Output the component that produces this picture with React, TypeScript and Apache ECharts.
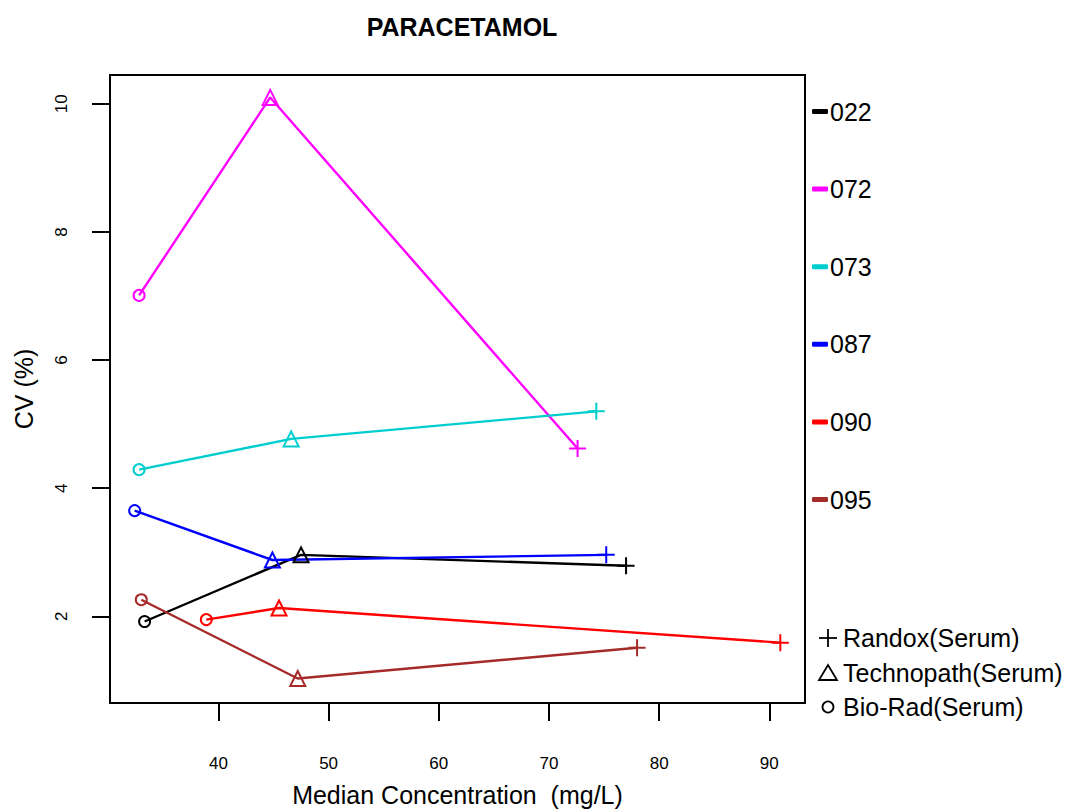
import React, { useEffect, useRef } from "react";
import * as echarts from "echarts";

const labs = ["022", "072", "073", "087", "090", "095"];
const labColors = ["#000000", "#FF00FF", "#00CDCD", "#0000FF", "#FF0000", "#A52A2A"];
const methods = ["Bio-Rad(Serum)", "Technopath(Serum)", "Randox(Serum)"];

// per lab: [Bio-Rad, Technopath, Randox]
const conc022 = [33.3, 47.5, 77.0];
const cv022 = [1.92, 2.96, 2.79];
const conc072 = [32.8, 44.7, 72.6];
const cv072 = [7.01, 10.1, 4.62];
const conc073 = [32.8, 46.6, 74.3];
const cv073 = [4.29, 4.77, 5.2];
const conc087 = [32.4, 44.9, 75.2];
const cv087 = [3.65, 2.88, 2.96];
const conc090 = [38.9, 45.5, 91.0];
const cv090 = [1.95, 2.13, 1.59];
const conc095 = [33.0, 47.2, 78.0];
const cv095 = [2.26, 1.03, 1.51];

const concs = [conc022, conc072, conc073, conc087, conc090, conc095];
const cvs = [cv022, cv072, cv073, cv087, cv090, cv095];

const xTicks = [40, 50, 60, 70, 80, 90];
const yTicks = [2, 4, 6, 8, 10];

const PLUS = "path://M0,10L20,10M10,0L10,20";
const methodSymbols = ["circle", "triangle", PLUS];
const methodSizes = [11, 15, 17];

const FONT = "Liberation Sans, Arial, sans-serif";

export default function App() {
  const ref = useRef<HTMLDivElement>(null);
  useEffect(() => {
    if (!ref.current) return;
    const chart = echarts.init(ref.current, null, { renderer: "svg" });
    const series = labs.map((lab, i) => ({
      name: lab,
      type: "line",
      data: concs[i].map((x, j) => ({
        value: [x, cvs[i][j]],
        symbol: methodSymbols[j],
        symbolSize: methodSizes[j],
      })),
      showAllSymbol: true,
      lineStyle: { color: labColors[i], width: 2.4 },
      itemStyle: { color: "none", borderColor: labColors[i], borderWidth: 2 },
      emphasis: { disabled: true },
    }));
    chart.setOption({
      animation: false,
      backgroundColor: "#ffffff",
      textStyle: { fontFamily: FONT },
      title: {
        text: "PARACETAMOL",
        left: 457,
        textAlign: "center",
        top: 9,
        textStyle: { fontSize: 25, fontWeight: "bold", color: "#000", fontFamily: FONT },
      },
      grid: {
        left: 110,
        right: 263,
        top: 75,
        bottom: 107,
        containLabel: false,
        outerBoundsMode: "none",
        show: true,
        borderColor: "#000",
        borderWidth: 2,
        backgroundColor: "transparent",
      },
      xAxis: {
        type: "value",
        min: 30.16,
        max: 93.24,
        name: "Median Concentration  (mg/L)",
        nameLocation: "middle",
        nameGap: 79,
        nameTextStyle: { fontSize: 25, color: "#000", fontFamily: FONT },
        axisLine: { show: false },
        splitLine: { show: false },
        axisTick: {
          show: true,
          length: 18,
          customValues: xTicks,
          lineStyle: { color: "#000", width: 2 },
        },
        axisLabel: {
          customValues: xTicks,
          margin: 52,
          fontSize: 17,
          color: "#000",
          fontFamily: FONT,
        },
      },
      yAxis: {
        type: "value",
        min: 0.648,
        max: 10.45,
        name: "CV (%)",
        nameLocation: "middle",
        nameGap: 74,
        nameRotate: 90,
        nameTextStyle: { fontSize: 25, color: "#000", fontFamily: FONT },
        axisLine: { show: false },
        splitLine: { show: false },
        axisTick: {
          show: true,
          length: 18,
          customValues: yTicks,
          lineStyle: { color: "#000", width: 2 },
        },
        axisLabel: {
          customValues: yTicks,
          rotate: 90,
          margin: 40,
          fontSize: 17,
          color: "#000",
          fontFamily: FONT,
        },
      },
      legend: {
        orient: "vertical",
        left: 812,
        top: 99,
        padding: 0,
        itemGap: 52.6,
        itemWidth: 16,
        itemHeight: 5,
        selectedMode: false,
        icon: "roundRect",
        textStyle: { fontSize: 25, lineHeight: 24, color: "#000", fontFamily: FONT, padding: [0, 0, 0, -3] },
        data: labs.map((l, i) => ({
          name: l,
          icon: "roundRect",
          itemStyle: { color: labColors[i], borderWidth: 0 },
        })),
      },
      graphic: [
        { type: "line", shape: { x1: 819, y1: 638, x2: 837, y2: 638 }, style: { stroke: "#000", lineWidth: 1.8 } },
        { type: "line", shape: { x1: 828, y1: 629, x2: 828, y2: 647 }, style: { stroke: "#000", lineWidth: 1.8 } },
        {
          type: "polygon",
          shape: { points: [[828, 665], [819, 680], [837, 680]] },
          style: { stroke: "#000", fill: "none", lineWidth: 1.8 },
        },
        { type: "circle", shape: { cx: 828, cy: 707, r: 5.5 }, style: { stroke: "#000", fill: "none", lineWidth: 1.8 } },
        {
          type: "text",
          x: 843,
          y: 638,
          style: { text: methods[2], fontSize: 25, fill: "#000", fontFamily: FONT, textVerticalAlign: "middle" },
        },
        {
          type: "text",
          x: 843,
          y: 673,
          style: { text: methods[1], fontSize: 25, fill: "#000", fontFamily: FONT, textVerticalAlign: "middle" },
        },
        {
          type: "text",
          x: 843,
          y: 707,
          style: { text: methods[0], fontSize: 25, fill: "#000", fontFamily: FONT, textVerticalAlign: "middle" },
        },
      ],
      series,
    });
    return () => chart.dispose();
  }, []);
  return <div ref={ref} style={{ width: 1068, height: 810, position: "absolute", left: 0, top: 0 }} />;
}
